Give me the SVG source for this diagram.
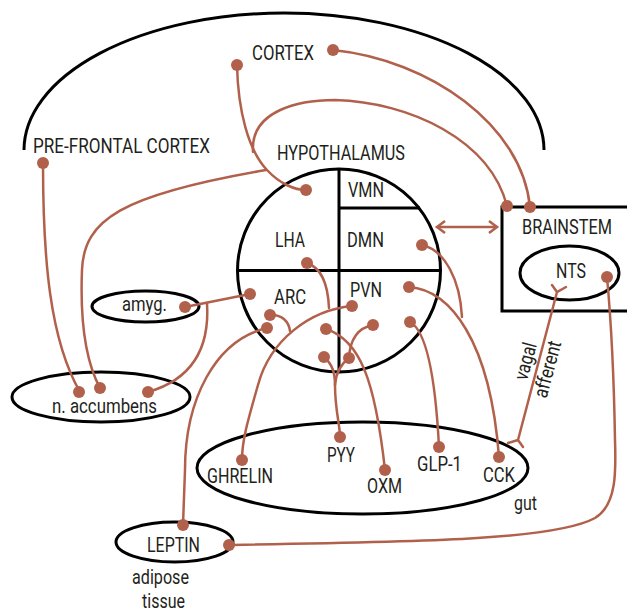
<svg xmlns="http://www.w3.org/2000/svg" width="627" height="613" viewBox="0 0 627 613">
<defs>
<style>
.k{fill:none;stroke:#000;stroke-width:3}
.c{fill:none;stroke:#b1614b;stroke-width:2.5;stroke-linecap:round}
.d{fill:#b1614b}
text{font-family:Roboto,"Liberation Sans",sans-serif;font-size:20px;fill:#231f20}
</style>
<marker id="ah" markerUnits="userSpaceOnUse" markerWidth="14" markerHeight="16" refX="11" refY="8" orient="auto-start-reverse" viewBox="0 0 14 16"><path d="M3,2 L11,8 L3,14" fill="none" stroke="#b1614b" stroke-width="2.5"/></marker>
</defs>
<rect width="627" height="613" fill="#fff"/>

<g id="brain-outline">
<path class="k" d="M24,150 A260,137 0 0 1 544,150"/>
</g>

<g id="cortex"><text x="252" y="60" textLength="62" lengthAdjust="spacingAndGlyphs">CORTEX</text></g>
<g id="prefrontal-cortex"><text x="33" y="153" textLength="177" lengthAdjust="spacingAndGlyphs">PRE-FRONTAL CORTEX</text></g>

<g id="hypothalamus">
<text x="277" y="160" textLength="128" lengthAdjust="spacingAndGlyphs">HYPOTHALAMUS</text>
<circle class="k" cx="339" cy="270.5" r="101.5"/>
<path class="k" d="M339,169 V372 M237.5,270.5 H440.5 M339,208 H420"/>
</g>
<g id="vmn"><text x="348" y="197" textLength="36" lengthAdjust="spacingAndGlyphs">VMN</text></g>
<g id="lha"><text x="275" y="247" textLength="30" lengthAdjust="spacingAndGlyphs">LHA</text></g>
<g id="dmn"><text x="347" y="247" textLength="37" lengthAdjust="spacingAndGlyphs">DMN</text></g>
<g id="arc"><text x="274" y="304" textLength="32" lengthAdjust="spacingAndGlyphs">ARC</text></g>
<g id="pvn"><text x="350" y="297" textLength="32" lengthAdjust="spacingAndGlyphs">PVN</text></g>

<g id="brainstem">
<path class="k" d="M627,207 H502 V311 H627"/>
<text x="522" y="234" textLength="90" lengthAdjust="spacingAndGlyphs">BRAINSTEM</text>
</g>
<g id="nts">
<ellipse class="k" cx="569.5" cy="273" rx="49.5" ry="27"/>
<text x="556" y="278" textLength="30" lengthAdjust="spacingAndGlyphs">NTS</text>
</g>

<g id="amygdala">
<ellipse class="k" cx="145.5" cy="306.5" rx="53.5" ry="15.5"/>
<text x="122" y="311" textLength="45" lengthAdjust="spacingAndGlyphs">amyg.</text>
</g>
<g id="n-accumbens">
<ellipse class="k" cx="101" cy="397" rx="89" ry="25"/>
<text x="52" y="413" textLength="105" lengthAdjust="spacingAndGlyphs">n. accumbens</text>
</g>

<g id="gut">
<ellipse class="k" cx="362.5" cy="468" rx="165.5" ry="46"/>
<text x="514" y="510" textLength="23" lengthAdjust="spacingAndGlyphs">gut</text>
</g>
<g id="ghrelin"><text x="207" y="483" textLength="66" lengthAdjust="spacingAndGlyphs">GHRELIN</text></g>
<g id="pyy"><text x="327" y="462" textLength="28" lengthAdjust="spacingAndGlyphs">PYY</text></g>
<g id="oxm"><text x="367" y="493" textLength="35" lengthAdjust="spacingAndGlyphs">OXM</text></g>
<g id="glp1"><text x="417" y="471" textLength="45" lengthAdjust="spacingAndGlyphs">GLP-1</text></g>
<g id="cck"><text x="483" y="482" textLength="32" lengthAdjust="spacingAndGlyphs">CCK</text></g>

<g id="leptin">
<ellipse class="k" cx="174.5" cy="542" rx="58.5" ry="20"/>
<text x="147" y="552" textLength="53" lengthAdjust="spacingAndGlyphs">LEPTIN</text>
<text x="132" y="584" textLength="57" lengthAdjust="spacingAndGlyphs">adipose</text>
<text x="142" y="608" textLength="43" lengthAdjust="spacingAndGlyphs">tissue</text>
</g>

<g id="connectors">
<path class="c" d="M333,50 C430,60 522,125 530,207"/>
<path class="c" d="M237,65 C238,110 248,150 267,170 C280,184 295,190 306,190"/>
<path class="c" d="M253,152 C250,110 300,100 335,100 C410,102 490,140 507,206"/>
<path class="c" d="M100,388 C85,360 80,320 82,270 C84,220 120,195 266,170"/>
<path class="c" d="M43,163 C43,260 50,340 80,392"/>
<path class="c" d="M185,307 L250,294"/>
<path class="c" d="M207,303 C210,350 190,380 148,392"/>
<path class="c" d="M307,263 C322,268 328,285 329,308"/>
<path class="c" d="M352,306 C310,310 270,340 258,385 C248,420 242,440 242,460"/>
<path class="c" d="M270,315 C282,314 289,322 290,331"/>
<path class="c" d="M267,328 C215,340 185,400 185,470 L183,525"/>
<path class="c" d="M326,329 C360,340 375,380 385,470"/>
<path class="c" d="M349,358 C350,340 357,328 373,325"/>
<path class="c" d="M324,357 C332,364 335,372 335,385 C335,410 340,425 340,437"/>
<path class="c" d="M349,358 C341,364 336,372 335,385"/>
<path class="c" d="M410,322 C425,330 435,370 439,447"/>
<path class="c" d="M409,287 C450,290 490,340 499,457"/>
<path class="c" d="M422,245 C445,250 460,280 462,317"/>
<path class="c" d="M229,545 C420,542 555,540 595,518 C617,505 616,470 615,440 C614,380 611,320 607,277"/>
<path class="c" d="M518,440 L557,292 M552,285 L557,292 L566,287 M508,443 L518,440 L523,447"/>
<path class="c" d="M437,227 L497,227" marker-start="url(#ah)" marker-end="url(#ah)" stroke-linecap="butt"/>
<g class="d">
<circle cx="333" cy="50" r="6"/><circle cx="237" cy="65" r="6"/><circle cx="306" cy="190" r="6"/>
<circle cx="507" cy="206" r="6"/><circle cx="530" cy="207" r="6"/><circle cx="43" cy="163" r="6"/>
<circle cx="79" cy="392" r="6"/><circle cx="100" cy="388" r="6"/><circle cx="148" cy="392" r="6"/>
<circle cx="185" cy="307" r="6"/><circle cx="250" cy="294" r="6"/><circle cx="307" cy="263" r="6"/>
<circle cx="422" cy="245" r="6"/><circle cx="409" cy="287" r="6"/><circle cx="410" cy="322" r="6"/>
<circle cx="352" cy="306" r="6"/><circle cx="326" cy="329" r="6"/><circle cx="373" cy="325" r="6"/>
<circle cx="324" cy="357" r="6"/><circle cx="349" cy="358" r="6"/><circle cx="270" cy="315" r="6"/>
<circle cx="267" cy="328" r="6"/><circle cx="242" cy="460" r="6"/><circle cx="340" cy="437" r="6"/>
<circle cx="385" cy="470" r="6"/><circle cx="439" cy="447" r="6"/><circle cx="499" cy="457" r="6"/>
<circle cx="183" cy="525" r="6"/><circle cx="229" cy="545" r="6"/><circle cx="607" cy="277" r="6"/>
</g>
<text transform="translate(532,363) rotate(-75)" text-anchor="middle" textLength="38" lengthAdjust="spacingAndGlyphs">vagal</text>
<text transform="translate(554,371) rotate(-75)" text-anchor="middle" textLength="58" lengthAdjust="spacingAndGlyphs">afferent</text>
</g>
</svg>
